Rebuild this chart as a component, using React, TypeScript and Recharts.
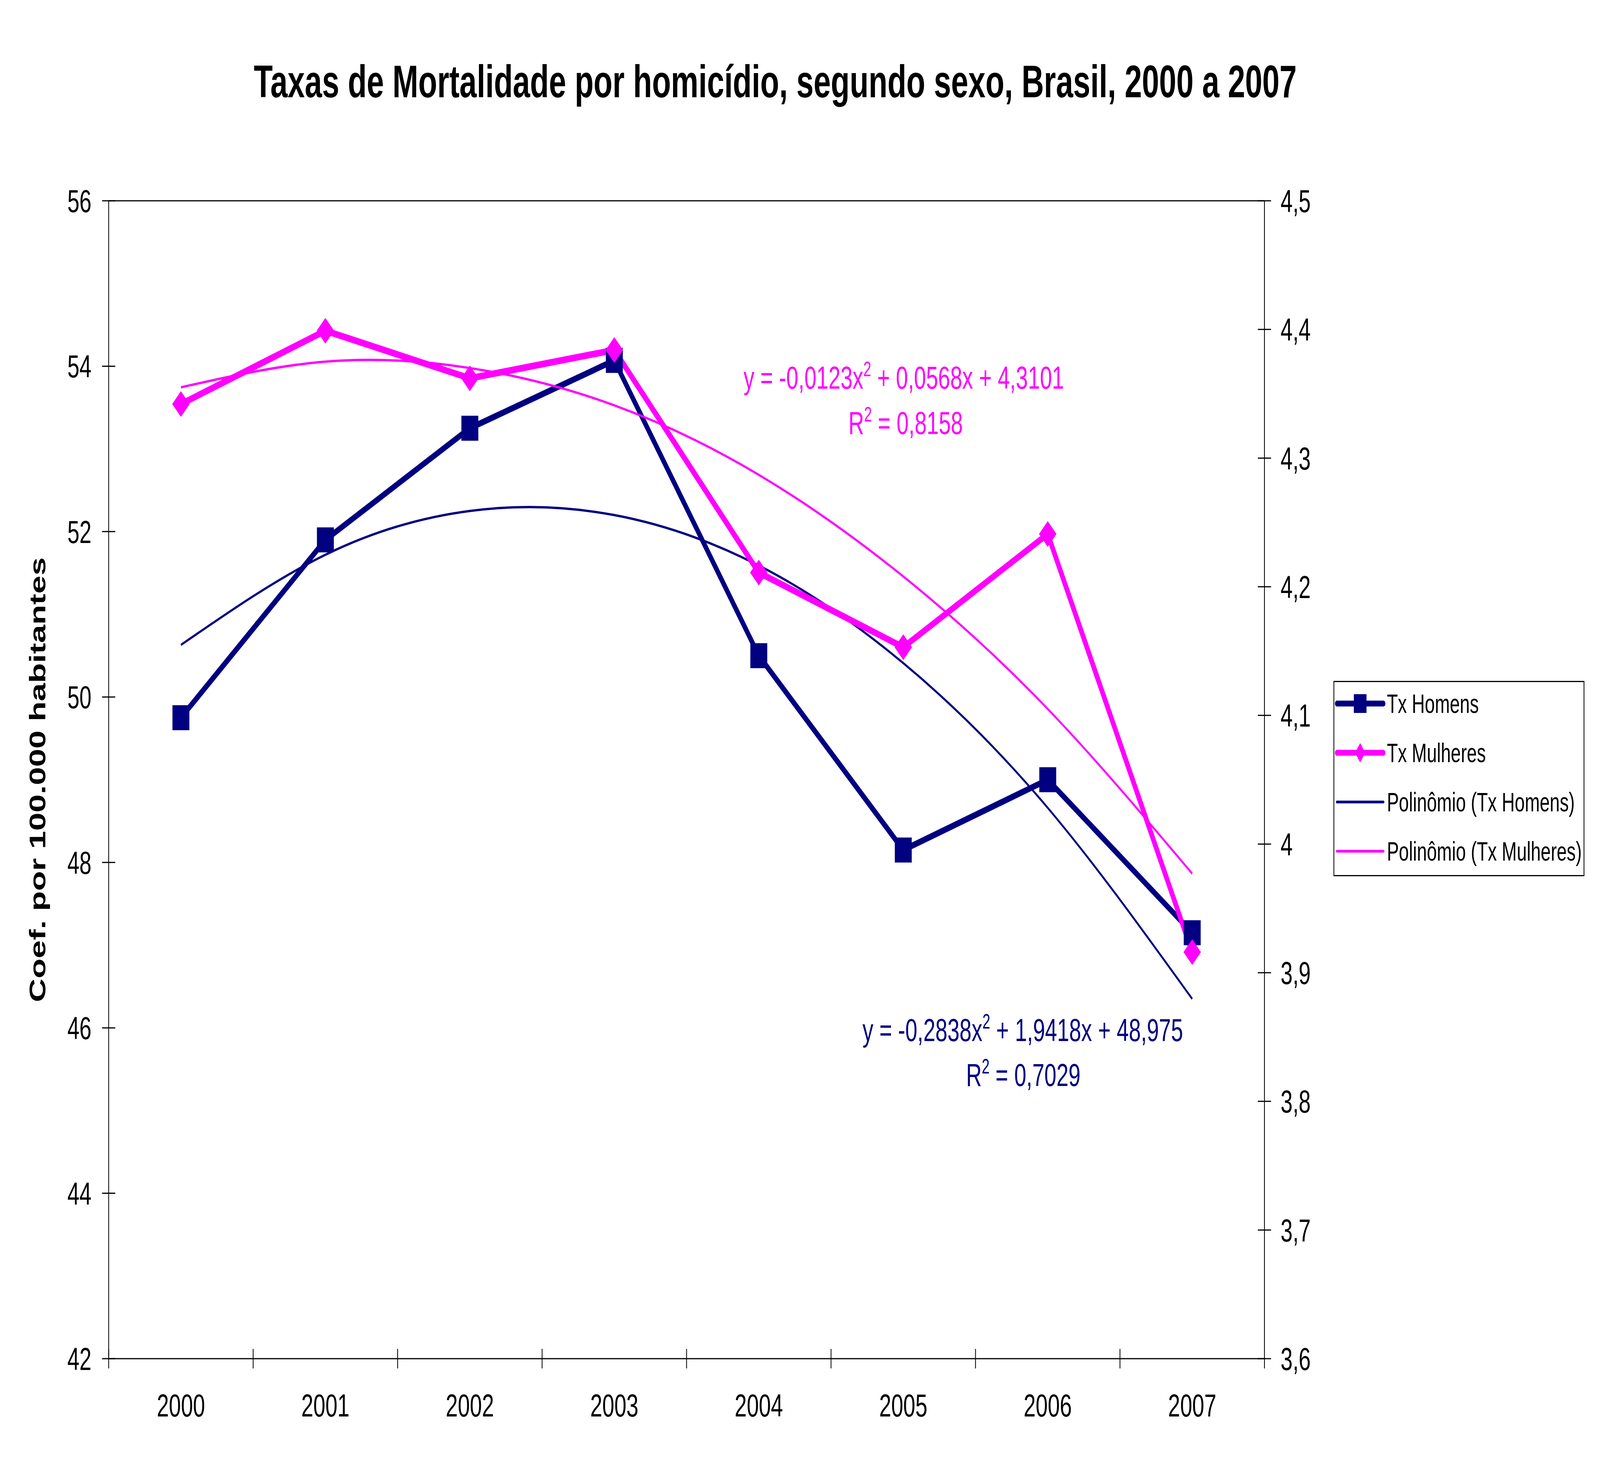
import { LineChart, Line, XAxis, YAxis, ReferenceLine, Legend, Customized } from "recharts";

const years = ["2000", "2001", "2002", "2003", "2004", "2005", "2006", "2007"];
const txHomens = [49.75, 51.9, 53.25, 54.07, 50.5, 48.15, 49.0, 47.15];
const txMulheres = [4.342, 4.399, 4.362, 4.384, 4.211, 4.153, 4.241, 3.916];
const polHomens = [50.63, 51.72, 52.25, 52.2, 51.59, 50.41, 48.66, 46.35];
const polMulheres = [4.355, 4.375, 4.37, 4.341, 4.287, 4.208, 4.105, 3.977];
const leftTicks = [42, 44, 46, 48, 50, 52, 54, 56];
const rightTicks = [3.6, 3.7, 3.8, 3.9, 4.0, 4.1, 4.2, 4.3, 4.4, 4.5];

const data = years.map((year, i) => ({
  year,
  homens: txHomens[i],
  mulheres: txMulheres[i],
  polH: polHomens[i],
  polM: polMulheres[i],
}));

const FONT = "'Liberation Sans', Arial, sans-serif";
const NAVY = "#000080";
const MAGENTA = "#FF00FF";

// laid out in reference pixels, then stretched to whatever the window really is
const W = 6051;
const H = 3763;
const PLOT_LEFT = 411;
const PLOT_RIGHT = 4782;
const HALF_BAND = (PLOT_RIGHT - PLOT_LEFT) / years.length / 2;

const LeftTick = ({ x, y, payload }: any) => (
  <g>
    <line x1={x - 25} x2={x + 25} y1={y} y2={y} stroke="#000" strokeWidth={3} />
    <text x={x - 65} y={y + 29} textAnchor="end" fontSize={82} fontFamily={FONT} fill="#000">
      {payload.value}
    </text>
  </g>
);

const RightTick = ({ x, y, payload }: any) => (
  <g>
    <line x1={x - 25} x2={x + 25} y1={y} y2={y} stroke="#000" strokeWidth={3} />
    <text x={x + 61} y={y + 29} textAnchor="start" fontSize={82} fontFamily={FONT} fill="#000">
      {String(Math.round(payload.value * 10) / 10).replace(".", ",")}
    </text>
  </g>
);

const YearTick = ({ x, y, payload, index }: any) => (
  <g>
    {index === 0 && (
      <line x1={x - HALF_BAND} x2={x - HALF_BAND} y1={y - 25} y2={y + 25} stroke="#000" strokeWidth={3} />
    )}
    <line x1={x + HALF_BAND} x2={x + HALF_BAND} y1={y - 25} y2={y + 25} stroke="#000" strokeWidth={3} />
    <text x={x} y={y + 148} textAnchor="middle" fontSize={82} fontFamily={FONT} fill="#000">
      {payload.value}
    </text>
  </g>
);

const SquareDot = ({ cx, cy, index }: any) => (
  <rect key={`sq-${index}`} x={cx - 32} y={cy - 32} width={64} height={64} fill={NAVY} />
);

const DiamondDot = ({ cx, cy, index }: any) => (
  <polygon
    key={`dm-${index}`}
    points={`${cx},${cy - 33} ${cx + 33},${cy} ${cx},${cy + 33} ${cx - 33},${cy}`}
    fill={MAGENTA}
  />
);

const legendItems = [
  { label: "Tx Homens", color: NAVY, width: 15, marker: "square" },
  { label: "Tx Mulheres", color: MAGENTA, width: 15, marker: "diamond" },
  { label: "Polinômio (Tx Homens)", color: NAVY, width: 7, marker: "" },
  { label: "Polinômio (Tx Mulheres)", color: MAGENTA, width: 7, marker: "" },
];

const LegendBox = () => (
  <div
    style={{
      width: 949,
      height: 500,
      border: "3px solid #000",
      boxSizing: "border-box",
      background: "#fff",
      position: "relative",
      fontFamily: FONT,
    }}
  >
    {legendItems.map((it, i) => (
      <div
        key={it.label}
        style={{
          position: "absolute",
          left: 0,
          top: 55 + i * 126 - 40,
          height: 80,
          display: "flex",
          alignItems: "center",
          whiteSpace: "nowrap",
        }}
      >
        <svg width={199} height={80} style={{ display: "block" }}>
          <line x1={10} x2={186} y1={40} y2={40} stroke={it.color} strokeWidth={it.width} strokeLinecap="round" />
          {it.marker === "square" && <rect x={74} y={16} width={48} height={48} fill={it.color} />}
          {it.marker === "diamond" && <polygon points="98,15 117,40 98,65 79,40" fill={it.color} />}
        </svg>
        <span style={{ fontSize: 68, lineHeight: 1, color: "#000" }}>{it.label}</span>
      </div>
    ))}
  </div>
);

const Annotations = () => (
  <g fontFamily={FONT}>
    <text x={2932} y={249} textAnchor="middle" fontSize={117} fontWeight="bold" fill="#000">
      Taxas de Mortalidade por homicídio, segundo sexo, Brasil, 2000 a 2007
    </text>
    <text x={3418} y={995} textAnchor="middle" fontSize={82} fill={MAGENTA}>
      y = -0,0123x<tspan dy={-32} fontSize={53}>2</tspan>
      <tspan dy={32}> + 0,0568x + 4,3101</tspan>
    </text>
    <text x={3425} y={1111} textAnchor="middle" fontSize={82} fill={MAGENTA}>
      R<tspan dy={-32} fontSize={53}>2</tspan>
      <tspan dy={32}> = 0,8158</tspan>
    </text>
    <text x={3868} y={2665} textAnchor="middle" fontSize={82} fill={NAVY}>
      y = -0,2838x<tspan dy={-32} fontSize={53}>2</tspan>
      <tspan dy={32}> + 1,9418x + 48,975</tspan>
    </text>
    <text x={3870} y={2780} textAnchor="middle" fontSize={82} fill={NAVY}>
      R<tspan dy={-32} fontSize={53}>2</tspan>
      <tspan dy={32}> = 0,7029</tspan>
    </text>
  </g>
);

export default function App() {
  const hasWin = typeof window !== "undefined" && window.innerWidth > 0;
  const sx = hasWin ? window.innerWidth / W : 1;
  const sy = hasWin ? window.innerHeight / H : 1;
  return (
    <div
      style={{
        position: "fixed",
        left: 0,
        top: 0,
        width: "100vw",
        height: "100vh",
        overflow: "hidden",
        background: "#fff",
      }}
    >
      <div style={{ width: W, height: H, transform: `scale(${sx}, ${sy})`, transformOrigin: "0 0" }}>
        <LineChart width={W} height={H} data={data} margin={{ top: 514, right: 969, left: 0, bottom: 85 }}>
          <XAxis
            dataKey="year"
            padding={{ left: HALF_BAND, right: HALF_BAND }}
            height={200}
            axisLine={{ stroke: "#000", strokeWidth: 3 }}
            tickLine={false}
            tickSize={0}
            tickMargin={0}
            tick={<YearTick />}
            interval={0}
          />
          <YAxis
            yAxisId="left"
            width={411}
            domain={[42, 56]}
            ticks={leftTicks}
            allowDataOverflow
            axisLine={{ stroke: "#000", strokeWidth: 3 }}
            tickLine={false}
            tickSize={0}
            tickMargin={0}
            tick={<LeftTick />}
            interval={0}
            label={{
              value: "Coef. por 100.000 habitantes",
              angle: -90,
              position: "center",
              dx: -64,
              style: { fontFamily: FONT, fontSize: 84, fontWeight: "bold", fill: "#000" },
            }}
          />
          <YAxis
            yAxisId="right"
            orientation="right"
            width={300}
            domain={[3.6, 4.5]}
            ticks={rightTicks}
            allowDataOverflow
            axisLine={{ stroke: "#000", strokeWidth: 3 }}
            tickLine={false}
            tickSize={0}
            tickMargin={0}
            tick={<RightTick />}
            interval={0}
          />
          <ReferenceLine yAxisId="left" y={56} stroke="#000" strokeWidth={3} />
          <Line yAxisId="left" type="linear" dataKey="homens" name="Tx Homens" stroke={NAVY} strokeWidth={16} dot={SquareDot} activeDot={false} isAnimationActive={false} />
          <Line yAxisId="left" type="natural" dataKey="polH" name="Polinômio (Tx Homens)" stroke={NAVY} strokeWidth={6} dot={false} activeDot={false} isAnimationActive={false} />
          <Line yAxisId="right" type="linear" dataKey="mulheres" name="Tx Mulheres" stroke={MAGENTA} strokeWidth={17} dot={DiamondDot} activeDot={false} isAnimationActive={false} />
          <Line yAxisId="right" type="natural" dataKey="polM" name="Polinômio (Tx Mulheres)" stroke={MAGENTA} strokeWidth={6} dot={false} activeDot={false} isAnimationActive={false} />
          <Legend
            layout="horizontal"
            verticalAlign="middle"
            align="center"
            content={<LegendBox />}
            wrapperStyle={{ position: "absolute", left: 5043, top: 1743, width: 949, height: 500 }}
          />
          <Customized component={Annotations} />
        </LineChart>
      </div>
    </div>
  );
}
